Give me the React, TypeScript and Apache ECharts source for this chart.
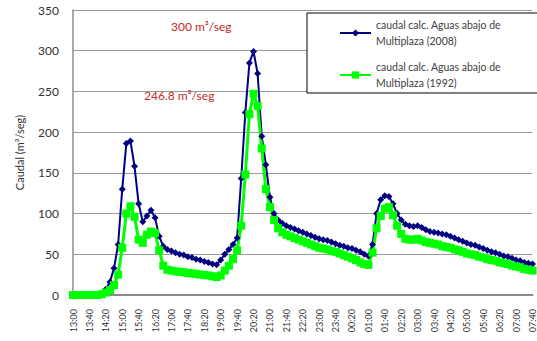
import React, { useEffect, useRef } from "react";
import * as echarts from "echarts";

const times: string[] = [];
const startMin = 13 * 60;
for (let i = 0; i <= 112; i++) {
  const m = (startMin + i * 10) % (24 * 60);
  const h = Math.floor(m / 60);
  const mm = m % 60;
  times.push(`${String(h).padStart(2, "0")}:${String(mm).padStart(2, "0")}`);
}

const SERIES_2008 = "caudal calc. Aguas abajo de Multiplaza (2008)";
const SERIES_1992 = "caudal calc. Aguas abajo de Multiplaza (1992)";

const caudal2008: number[] = [
  0, 0, 0, 0, 0, 0, 0, 2, 7, 16,
  33, 62, 130, 186, 189, 158, 112, 90, 97, 104,
  95, 72, 60, 56, 54, 52, 50, 49, 47, 46,
  44, 43, 41, 40, 38, 37, 43, 50, 56, 62,
  70, 143, 224, 285, 299, 272, 195, 160, 120, 100,
  92, 88, 85, 83, 81, 79, 77, 75, 73, 71,
  69, 68, 67, 65, 63, 61, 60, 58, 57, 55,
  53, 50, 48, 62, 100, 117, 122, 121, 112, 100,
  92, 87, 85, 84, 85, 83, 80, 78, 77, 76,
  75, 74, 72, 70, 68, 66, 64, 62, 61, 59,
  57, 55, 53, 52, 50, 48, 47, 45, 43, 42,
  40, 39, 38,
];

const caudal1992: number[] = [
  0, 0, 0, 0, 0, 0, 0, 1, 3, 6,
  12, 25, 58, 100, 109, 96, 68, 64, 74, 78,
  76, 55, 36, 31, 30, 29, 28.5, 28, 27, 26.5,
  26, 25, 24.5, 24, 23, 22, 24, 30, 36, 44,
  55, 85, 148, 222, 247, 232, 180, 130, 108, 92,
  82, 77, 74, 72, 70, 68, 66, 64, 62, 60,
  58, 57, 56, 54, 53, 51, 49, 47, 45, 43,
  40, 38, 37, 52, 82, 97, 106, 108, 98, 85,
  75, 69, 68, 68, 69, 67, 65, 64, 63, 62,
  60, 59, 58, 56, 55, 53, 51, 50, 49, 47,
  46, 44, 43, 42, 40, 39, 38, 36, 35, 34,
  32, 31, 30,
];

const yTicks = { min: 0, max: 350, interval: 50 };

const FONT = "Lato, 'Liberation Sans', sans-serif";

export default function App() {
  const ref = useRef<HTMLDivElement>(null);

  useEffect(() => {
    if (!ref.current) return;
    const chart = echarts.init(ref.current, null, { renderer: "svg" });
    chart.setOption({
      animation: false,
      backgroundColor: "#ffffff",
      grid: { left: 73, top: 10, right: 0, bottom: 46, containLabel: false },
      xAxis: {
        type: "category",
        data: times,
        boundaryGap: false,
        axisLine: { show: true, lineStyle: { color: "#8c8c8c", width: 2 } },
        axisTick: { show: false },
        axisLabel: {
          interval: 3,
          rotate: 90,
          fontSize: 9,
          fontFamily: FONT,
          color: "#333333",
          margin: 14,
        },
        splitLine: { show: false },
      },
      yAxis: {
        type: "value",
        min: yTicks.min,
        max: yTicks.max,
        interval: yTicks.interval,
        name: "Caudal (m³/seg)",
        nameLocation: "middle",
        nameGap: 48,
        nameRotate: 90,
        nameTextStyle: { fontSize: 11, fontFamily: FONT, color: "#333333" },
        axisLine: { show: true, lineStyle: { color: "#8c8c8c", width: 1.5 } },
        axisTick: { show: false },
        axisLabel: { fontSize: 12, fontFamily: FONT, color: "#333333", margin: 14 },
        splitLine: { show: true, lineStyle: { color: "#9a9a9a", width: 1 } },
      },
      legend: {
        orient: "vertical",
        left: 334,
        top: 4,
        itemWidth: 31,
        itemHeight: 9,
        itemGap: -6,
        data: [SERIES_2008, SERIES_1992],
        formatter: (name: string) =>
          name === SERIES_2008
            ? "caudal calc. Aguas abajo de\nMultiplaza (2008)"
            : "caudal calc. Aguas abajo de\nMultiplaza (1992)",
        textStyle: {
          fontSize: 10.5,
          fontFamily: FONT,
          color: "#404040",
          lineHeight: 16,
          padding: [16, 0, 0, 0],
        },
        z: 5,
      },
      graphic: [
        {
          type: "rect",
          z: 3,
          shape: { x: 307, y: 13, width: 240, height: 80 },
          style: { fill: "#ffffff", stroke: "#000000", lineWidth: 1 },
        },
        {
          type: "text",
          z: 4,
          x: 171,
          y: 26,
          style: {
            text: "300 m³/seg",
            fill: "#c62828",
            fontSize: 12,
            fontFamily: FONT,
            verticalAlign: "middle",
          },
        },
        {
          type: "text",
          z: 4,
          x: 144,
          y: 95,
          style: {
            text: "246.8 m³/seg",
            fill: "#c62828",
            fontSize: 12,
            fontFamily: FONT,
            verticalAlign: "middle",
          },
        },
      ],
      series: [
        {
          name: SERIES_2008,
          type: "line",
          data: caudal2008,
          symbol: "diamond",
          symbolSize: 7,
          showAllSymbol: true,
          lineStyle: { color: "#000080", width: 2 },
          itemStyle: { color: "#000080" },
          z: 2,
        },
        {
          name: SERIES_1992,
          type: "line",
          data: caudal1992,
          symbol: "rect",
          symbolSize: 8,
          showAllSymbol: true,
          lineStyle: { color: "#00ff00", width: 3 },
          itemStyle: { color: "#00ff00" },
          z: 2,
        },
      ],
    });
    return () => chart.dispose();
  }, []);

  return (
    <div
      ref={ref}
      style={{ position: "fixed", left: 0, top: 0, width: 537, height: 341 }}
    />
  );
}
